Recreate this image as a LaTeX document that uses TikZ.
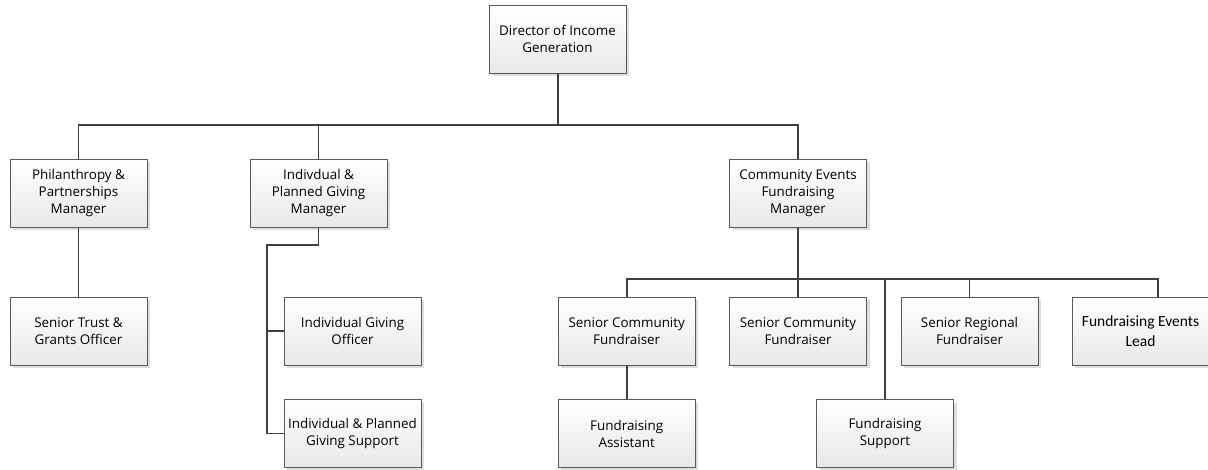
\documentclass[tikz,border=0pt]{standalone}
\usepackage{fontspec}
\setmainfont{Open Sans}
\newfontfamily\calib{Carlito}
\usetikzlibrary{shadows}
\definecolor{linec}{HTML}{404040}
\definecolor{borderc}{HTML}{5A5A5A}
\begin{document}
\begin{tikzpicture}[x=1pt,y=-1pt,
  box/.style={draw=borderc, line width=0.9pt, top color=white, bottom color=black!9,
    minimum width=137pt, minimum height=68pt, inner sep=0pt, align=center,
    text=black, font=\fontsize{13.4}{17}\selectfont,
    drop shadow={shadow xshift=3pt, shadow yshift=-3pt, fill=black!13, opacity=1}},
  cbox/.style={box, font=\calib\fontsize{15.5}{20}\selectfont},
  conn/.style={draw=linec, line width=1.8pt}]
\useasboundingbox[fill=white] (0,0) rectangle (1208,470);

\node[box] (dir) at (557.5,39) {Director of Income\\Generation};
\node[box] (phil) at (78.5,193.5) {Philanthropy \&\\Partnerships\\Manager};
\node[box] (ind) at (318.5,193.5) {Indivdual \&\\Planned Giving\\Manager};
\node[box] (com) at (798,193.5) {Community Events\\Fundraising\\Manager};
\node[box] (trust) at (78.5,331) {Senior Trust \&\\Grants Officer};
\node[box] (igo) at (352.5,331) {Individual Giving\\Officer};
\node[box] (ips) at (352.5,433.5) {Individual \& Planned\\Giving Support};
\node[box] (scf1) at (626.7,331) {Senior Community\\Fundraiser};
\node[box] (scf2) at (798,331) {Senior Community\\Fundraiser};
\node[box] (srf) at (969.5,331) {Senior Regional\\Fundraiser};
\node[cbox] (fel) at (1140.5,331) {Fundraising Events\\Lead};
\node[box] (fa) at (626.7,433.5) {Fundraising\\Assistant};
\node[box] (fs) at (885,433.5) {Fundraising\\Support};

% top level bus
\coordinate (busA) at (558,125);
\draw[conn] (phil.north) |- (busA) -| (com.north);
\draw[conn] ([xshift=0.5pt]dir.south) -- (busA);
\draw[conn] (ind.north) -- (ind.north |- busA);

% philanthropy
\draw[conn] (phil.south) -- (trust.north);

% individual giving side bus
\coordinate (elbA) at (318.5,245.3);
\coordinate (elbB) at (266.7,245.3);
\draw[conn] (ind.south) -- (elbA) -- (elbB) |- (ips.west);
\draw[conn] (elbB |- igo.west) -- (igo.west);

% community bus
\coordinate (busB) at (798,279.3);
\coordinate (felTop) at (1158.3,297);
\draw[conn] (com.south) -- (busB);
\draw[conn] (scf1.north) |- (busB) -| (felTop);
\draw[conn] (scf2.north) -- (busB);
\draw[conn] (srf.north) -- (srf.north |- busB);
\draw[conn] (fs.north) -- (fs.north |- busB);
\draw[conn] (scf1.south) -- (fa.north);
\end{tikzpicture}
\end{document}
